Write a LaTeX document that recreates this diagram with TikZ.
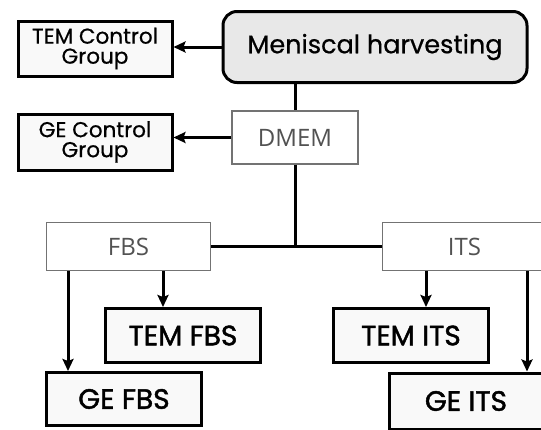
\documentclass[tikz,border=0pt]{standalone}
\usepackage{fontspec}
\setmainfont{Poppins}
\newfontfamily\medfont[FakeBold=1.6]{Poppins}
\newfontfamily\bookfont[FakeBold=0.6]{Poppins}
\newfontfamily\thinfont{Open Sans}
\usepackage{xcolor}
\usepackage{tikz}
\usetikzlibrary{arrows.meta}

\begin{document}
\begin{tikzpicture}[x=1pt,y=-1pt,
	groupbox/.style={draw=black, line width=3pt, fill=gray!5, align=center, inner sep=0pt},
	mediumbox/.style={draw=black!55, line width=1.3pt, fill=white, text=black!68, inner sep=0pt, font=\thinfont\fontsize{24}{26}\selectfont},
	arr/.style={line width=3pt, -{Stealth[length=12pt,width=11pt,inset=2pt]}},
	link/.style={line width=3pt}]
	
	\clip (0,0) rectangle (541,429);
	\fill[white] (0,0) rectangle (541,429);
	
	\node[draw=black, line width=3pt, fill=gray!18, rounded corners=14pt, minimum width=304pt, minimum height=71pt, font=\bookfont\fontsize{25.5}{28}\selectfont] (harvest) at (375,47) {Meniscal harvesting};
	\node[groupbox, minimum width=154pt, minimum height=55pt, font=\bookfont\fontsize{21.5}{20}\selectfont] (temctrl) at (95,48.5) {TEM Control\\Group};
	\node[mediumbox, minimum width=126pt, minimum height=53pt] (dmem) at (295,137.5) {DMEM};
	\node[groupbox, minimum width=154pt, minimum height=56pt, font=\bookfont\fontsize{21.5}{20}\selectfont] (gectrl) at (95,142) {GE Control\\Group};
	\node[mediumbox, minimum width=164pt, minimum height=48pt] (fbs) at (128.5,246.5) {FBS};
	\node[mediumbox, minimum width=164pt, minimum height=48pt] (its) at (464.5,246.5) {ITS};
	\node[groupbox, minimum width=155pt, minimum height=54pt, font=\medfont\fontsize{28}{30}\selectfont] (temfbs) at (183,335.5) {TEM FBS};
	\node[groupbox, minimum width=155pt, minimum height=53pt, font=\medfont\fontsize{28}{30}\selectfont] (gefbs) at (124,399) {GE FBS};
	\node[groupbox, minimum width=155pt, minimum height=54pt, font=\medfont\fontsize{28}{30}\selectfont] (temits) at (411,335.5) {TEM ITS};
	\node[groupbox, minimum width=154pt, minimum height=56pt, font=\medfont\fontsize{28}{30}\selectfont] (geits) at (466,401) {GE ITS};
	
	\coordinate (split) at (dmem.south |- fbs.east);
	
	\draw[arr] (harvest.west) -- (harvest.west -| temctrl.east);
	\draw[link] (harvest.south -| dmem.north) -- (dmem.north);
	\draw[arr] (dmem.west) -- (dmem.west -| gectrl.east);
	\draw[link] (dmem.south) -- (split);
	\draw[link] (fbs.east) -- (its.west);
	\draw[arr] ([xshift=-60.5pt]fbs.south) -- ([xshift=-60.5pt]fbs.south |- gefbs.north);
	\draw[arr] ([xshift=34.5pt]fbs.south) -- ([xshift=34.5pt]fbs.south |- temfbs.north);
	\draw[arr] ([xshift=-38.5pt]its.south) -- ([xshift=-38.5pt]its.south |- temits.north);
	\draw[arr] ([xshift=62.5pt]its.south) -- ([xshift=62.5pt]its.south |- geits.north);
	\end{tikzpicture}
\end{document}
